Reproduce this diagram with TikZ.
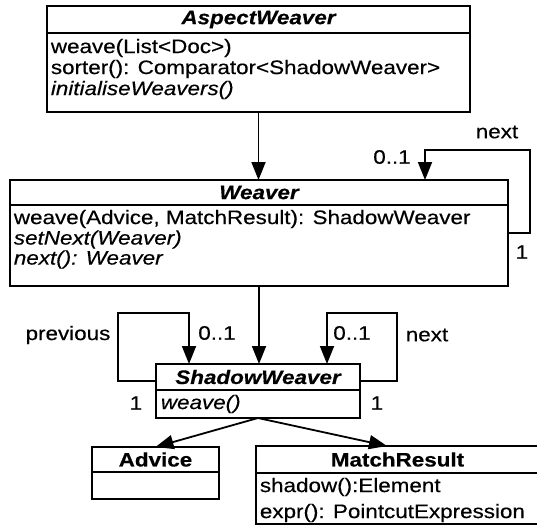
\documentclass[tikz,border=0pt]{standalone}
\usepackage{fontspec}
\setmainfont[FakeStretch=1.15,FakeBold=0.4]{Liberation Sans}
\usetikzlibrary{arrows.meta,calc}
\begin{document}
\begin{tikzpicture}[x=1pt,y=-1pt,line width=1.8pt,
  cls/.style={draw,rectangle,inner sep=0pt,outer sep=0pt,anchor=north west},
  ttl/.style={font=\fontsize{19.5}{20}\selectfont\bfseries\itshape,inner sep=0pt},
  ttlb/.style={font=\fontsize{19.5}{20}\selectfont\bfseries,inner sep=0pt},
  mth/.style={font=\fontsize{19.5}{20}\selectfont,inner sep=0pt,anchor=west},
  mthi/.style={font=\fontsize{19.5}{20}\selectfont\itshape,inner sep=0pt,anchor=west},
  lbl/.style={font=\fontsize{19.5}{20}\selectfont,inner sep=0pt},
  arr/.style={-{Triangle[length=18pt,width=14pt]}}]
\useasboundingbox (0,0) rectangle (537,525);
\clip (0,0) rectangle (537,525);
% AspectWeaver
\node[cls,minimum width=423pt,minimum height=106pt] (aw) at (47,6) {};
\draw ($(aw.north west)+(0,27)$) -- ($(aw.north east)+(0,27)$);
\node[ttl] (awt) at ($(aw.north)+(0,13.5)$) {AspectWeaver};
\node[mth] (aw1) at ($(aw.north west)+(3,42)$) {weave(List<Doc>)};
\node[mth] (aw2) at ($(aw.north west)+(3,63)$) {sorter(): Comparator<ShadowWeaver>};
\node[mthi] (aw3) at ($(aw.north west)+(3,84)$) {initialiseWeavers()};
% Weaver
\node[cls,minimum width=498pt,minimum height=106pt] (w) at (10,180) {};
\draw ($(w.north west)+(0,25)$) -- ($(w.north east)+(0,25)$);
\node[ttl] (wt) at ($(w.north)+(0,12.5)$) {Weaver};
\node[mth] (w1) at ($(w.north west)+(3,39)$) {weave(Advice, MatchResult): ShadowWeaver};
\node[mthi] (w2) at ($(w.north west)+(3,59.5)$) {setNext(Weaver)};
\node[mthi] (w3) at ($(w.north west)+(3,79.5)$) {next(): Weaver};
% ShadowWeaver
\node[cls,minimum width=204pt,minimum height=54pt] (sw) at (156,364) {};
\draw ($(sw.north west)+(0,26)$) -- ($(sw.north east)+(0,26)$);
\node[ttl] (swt) at ($(sw.north)+(0,13)$) {ShadowWeaver};
\node[mthi] (sw1) at ($(sw.north west)+(4,40)$) {weave()};
% Advice
\node[cls,minimum width=127pt,minimum height=52pt] (adv) at (92,447) {};
\draw ($(adv.north west)+(0,25)$) -- ($(adv.north east)+(0,25)$);
\node[ttlb] (advt) at ($(adv.north)+(0,12.5)$) {Advice};
% MatchResult
\node[cls,minimum width=283pt,minimum height=78pt] (mr) at (256,446) {};
\draw ($(mr.north west)+(0,27)$) -- ($(mr.north east)+(0,27)$);
\node[ttlb] (mrt) at ($(mr.north)+(0,13.5)$) {MatchResult};
\node[mth] (mr1) at ($(mr.north west)+(3,41)$) {shadow():Element};
\node[mth] (mr2) at ($(mr.north west)+(3,67)$) {expr(): PointcutExpression};
% connectors
\draw[arr] (aw.south) -- (aw.south |- w.north);
\coordinate (wl) at (530,150);
\coordinate (wn) at (425,180);
\draw[arr] (w.east) -| (wl) -| (wn);
\draw[arr] (w.south) -- (w.south |- sw.north);
\coordinate (swl) at (156,381);
\coordinate (swll) at (118,313);
\coordinate (swlt) at (189,364);
\draw[arr] (swl) -| (swll) -| (swlt);
\coordinate (swr) at (360,381);
\coordinate (swrr) at (397,313);
\coordinate (swrt) at (327,364);
\draw[arr] (swr) -| (swrr) -| (swrt);
\coordinate (mrin) at (387,446);
\draw[arr] (sw.south) -- (adv.north);
\draw[arr] (sw.south) -- (mrin);
% labels
\node[lbl] (l1) at (497,132) {next};
\node[lbl] (l2) at (392,157) {0..1};
\node[lbl] (l3) at (522,252) {1};
\node[lbl] (l4) at (68,335) {previous};
\node[lbl] (l5) at (217,333) {0..1};
\node[lbl] (l6) at (352,333) {0..1};
\node[lbl] (l7) at (427,335) {next};
\node[lbl] (l8) at (136,403) {1};
\node[lbl] (l9) at (377,403) {1};
\end{tikzpicture}
\end{document}
